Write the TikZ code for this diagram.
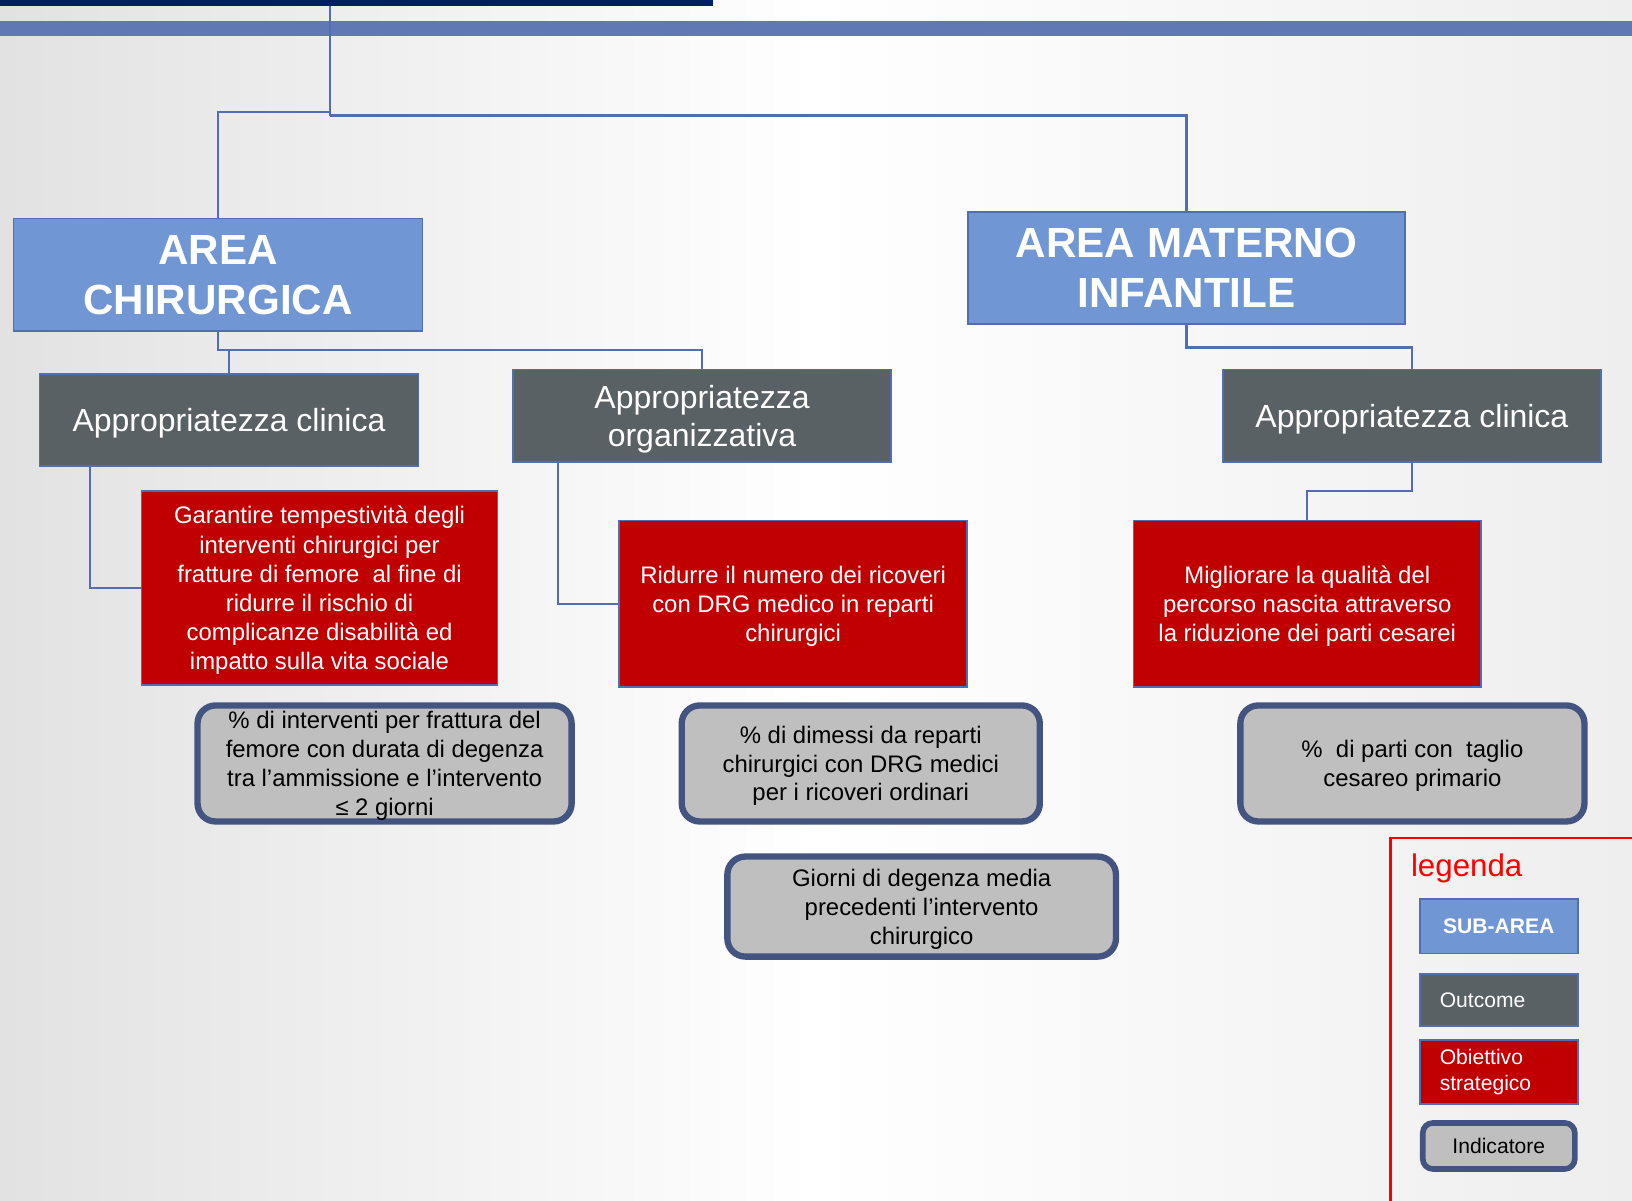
\documentclass[tikz,border=0pt]{standalone}
\usepackage{fontspec}
\setmainfont{Liberation Sans}
\usetikzlibrary{positioning,calc}

\definecolor{areablue}{RGB}{112,150,212}
\definecolor{boxedge}{RGB}{82,110,178}
\definecolor{outgray}{RGB}{89,97,101}
\definecolor{goalred}{RGB}{192,0,0}
\definecolor{indfill}{RGB}{191,191,191}
\definecolor{indedge}{RGB}{68,84,128}
\definecolor{linkblue}{RGB}{84,108,178}
\definecolor{navybar}{RGB}{0,32,96}
\definecolor{headbar}{RGB}{96,120,180}
\definecolor{legred}{RGB}{255,0,0}
\definecolor{bgleft}{RGB}{226,226,226}
\definecolor{bgright}{RGB}{238,238,238}

\tikzset{
  areabox/.style={draw=boxedge, line width=0.5pt, fill=areablue, text=white,
    align=center, inner sep=0pt, font=\fontsize{12}{14.2}\selectfont\bfseries},
  outbox/.style={draw=boxedge, line width=0.5pt, fill=outgray, text=white,
    align=center, inner sep=0pt, text depth=0pt, font=\fontsize{9.1}{11}\selectfont},
  goalbox/.style={draw=boxedge, line width=0.5pt, fill=goalred, text=white,
    align=center, inner sep=0pt, text depth=0pt, font=\fontsize{6.8}{8.3}\selectfont},
  indbox/.style={draw=indedge, line width=1.8pt, fill=indfill, text=black,
    rounded corners=0.18cm, align=center, inner sep=0pt, text depth=0pt,
    font=\fontsize{6.8}{8.2}\selectfont},
  link/.style={draw=linkblue, line width=0.6pt},
  legfont/.style={font=\fontsize{6}{7.2}\selectfont}
}

\begin{document}
\begin{tikzpicture}[x=0.010408cm, y=-0.010408cm]
    \useasboundingbox (0,0) rectangle (1568,1153);

    % Background and title bars
    \shade[left color=bgleft, right color=bgright, middle color=white] (0,0) rectangle (1568,1153);
    \fill[navybar] (0,0) rectangle (685,6);
    \fill[headbar] (0,20) rectangle (1568,35);

    % Areas
    \node[areabox, minimum width=4.09cm, minimum height=1.124cm] (chir) at (209.5,264) {AREA\\CHIRURGICA};
    \node[areabox, minimum width=4.371cm, minimum height=1.114cm] (mat) at (1140,257.5) {AREA MATERNO\\INFANTILE};

    % Outcome
    \node[outbox, minimum width=3.789cm, minimum height=0.926cm] (clinL) at (220,403.5) {Appropriatezza clinica};
    \node[outbox, minimum width=3.778cm, minimum height=0.926cm] (org) at (674.5,399.5) {Appropriatezza\\organizzativa};
    \node[outbox, minimum width=3.778cm, minimum height=0.926cm] (clinR) at (1356.5,399.5) {Appropriatezza clinica};

    % Obiettivi strategici
    \node[goalbox, minimum width=3.56cm, minimum height=1.936cm] (goalL) at (307,565)
      {Garantire tempestività degli\\interventi chirurgici per\\fratture di femore ~al fine di\\ridurre il rischio di\\complicanze disabilità ed\\impatto sulla vita sociale};
    \node[goalbox, minimum width=3.476cm, minimum height=1.665cm] (goalM) at (762,580)
      {Ridurre il numero dei ricoveri\\con DRG medico in reparti\\chirurgici};
    \node[goalbox, minimum width=3.476cm, minimum height=1.665cm] (goalR) at (1256,580)
      {Migliorare la qualità del\\percorso nascita attraverso\\la riduzione dei parti cesarei};

    % Indicatori
    \node[indbox, minimum width=3.74cm, minimum height=1.16cm] (indL) at (369.5,733.5)
      {\% di interventi per frattura del\\femore con durata di degenza\\tra l’ammissione e l’intervento\\≤ 2 giorni};
    \node[indbox, minimum width=3.58cm, minimum height=1.16cm] (indM) at (827,733.5)
      {\% di dimessi da reparti\\chirurgici con DRG medici\\per i ricoveri ordinari};
    \node[indbox, minimum width=3.44cm, minimum height=1.16cm] (indR) at (1357,733.5)
      {\% ~di parti con ~taglio\\cesareo primario};
    \node[indbox, minimum width=3.885cm, minimum height=1.0cm] (indM2) at (885.5,871)
      {Giorni di degenza media\\precedenti l’intervento\\chirurgico};

    % Connectors
    \coordinate (root) at (317,6);
    \coordinate (splitL) at (317,108);
    \coordinate (splitR) at (317,111);
    \coordinate (chirbus) at (209.5,336);
    \draw[link] (root) -- (splitR);
    \draw[link] (splitL) -| (chir.north);
    \draw[link] (splitR) -| (mat.north);
    \draw[link] (chir.south) -- (chirbus) -| (org.north);
    \draw[link] (clinL.north) -- (clinL.north |- chirbus);
    \draw[link] (mat.south) -- ++(0,22) -| (clinR.north);
    \draw[link] (clinR.south) -- ++(0,27) -| (goalR.north);
    \draw[link] ($(clinL.south west)+(49,0)$) |- (goalL.west);
    \draw[link] ($(org.south west)+(44,0)$) |- (goalM.west);

    % Legenda
    \draw[legred, line width=0.6pt] (1336,1160) |- (1575,805);
    \node[anchor=west, inner sep=0pt, text=legred, font=\fontsize{8.9}{10}\selectfont] (legtitle) at (1355,834) {legenda};
    \node[areabox, font=\fontsize{6}{7.2}\selectfont\bfseries, minimum width=1.582cm, minimum height=0.541cm] (legArea) at (1440,890) {SUB-AREA};
    \node[outbox, legfont, align=left, text width=1.18cm, text depth=, inner xsep=0.2cm, minimum height=0.52cm] (legOut) at (1440,961) {Outcome};
    \node[goalbox, legfont, align=left, text width=1.18cm, text depth=, inner xsep=0.2cm, minimum height=0.645cm] (legGoal) at (1440,1030) {Obiettivo\\strategico};
    \node[indbox, legfont, line width=1.6pt, rounded corners=0.1cm, minimum width=1.52cm, minimum height=0.46cm] (legInd) at (1440,1101) {Indicatore};
\end{tikzpicture}
\end{document}
